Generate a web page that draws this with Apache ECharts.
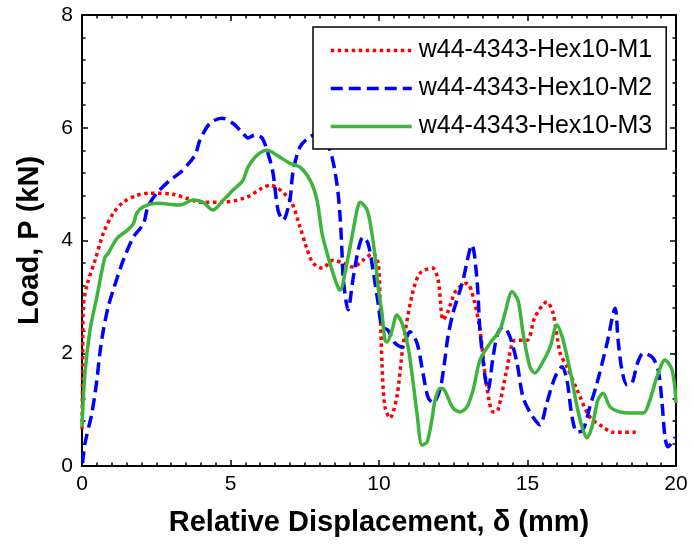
<!DOCTYPE html>
<html>
<head>
<meta charset="utf-8">
<script src="https://cdn.jsdelivr.net/npm/echarts@6/dist/echarts.min.js"></script>
<style>
  html, body { margin: 0; padding: 0; background: #fff; }
  #chart { width: 693px; height: 546px; }
</style>
</head>
<body>
<div id="chart"></div>
<script>
// Load–displacement curves for three Hex10 specimens
const seriesNames = ['w44-4343-Hex10-M1', 'w44-4343-Hex10-M2', 'w44-4343-Hex10-M3'];

const m1X = [0, 0.02, 0.04, 0.16, 0.44, 0.72, 1.05, 1.39, 1.84, 2.29, 3.07, 3.52, 3.97, 4.76, 5.55, 6.06, 6.33, 7.0, 7.34, 7.57, 7.78, 8.1, 8.45, 8.79, 9.12, 9.46, 9.8, 9.97, 10.03, 10.1, 10.2, 10.37, 10.6, 10.8, 11.1, 11.38, 11.8, 11.99, 12.16, 12.3, 12.6, 12.96, 13.2, 13.4, 13.6, 13.84, 14.0, 14.3, 14.58, 14.98, 15.25, 15.65, 15.86, 16.1, 16.33, 16.67, 17.1, 17.55, 17.88, 18.68];
const m1Y = [0.65, 1.6, 2.8, 3.2, 3.65, 4.13, 4.48, 4.68, 4.8, 4.84, 4.82, 4.75, 4.68, 4.68, 4.77, 4.93, 4.98, 4.72, 4.24, 3.86, 3.6, 3.51, 3.65, 3.6, 3.53, 3.65, 3.77, 3.6, 3.0, 1.82, 1.05, 0.85, 1.22, 2.1, 3.0, 3.42, 3.51, 3.3, 2.59, 2.71, 3.12, 3.24, 2.94, 2.41, 1.52, 0.96, 0.99, 1.7, 2.23, 2.23, 2.64, 2.91, 2.71, 2.0, 1.76, 1.35, 0.87, 0.69, 0.6, 0.6];

const m2X = [0.02, 0.1, 0.33, 0.5, 0.6, 0.72, 0.88, 1.05, 1.39, 1.73, 2.07, 2.22, 2.52, 2.96, 3.3, 3.8, 3.97, 4.31, 4.71, 5.08, 5.42, 5.59, 5.82, 6.06, 6.26, 6.43, 6.6, 6.77, 7.0, 7.1, 7.34, 7.68, 8.0, 8.35, 8.58, 8.69, 8.75, 8.8, 8.96, 9.12, 9.3, 9.46, 9.63, 9.8, 9.97, 10.1, 10.3, 10.54, 10.77, 11.04, 11.28, 11.48, 11.65, 11.82, 12.05, 12.2, 12.32, 12.49, 12.73, 12.83, 13.13, 13.3, 13.4, 13.57, 13.67, 13.84, 14.0, 14.18, 14.41, 14.65, 14.85, 15.18, 15.42, 15.65, 15.93, 16.16, 16.33, 16.5, 16.67, 16.87, 17.1, 17.34, 17.68, 17.95, 18.05, 18.18, 18.35, 18.52, 18.7, 18.9, 19.2, 19.4, 19.53, 19.63, 19.73, 19.97];
const m2Y = [0.05, 0.4, 0.93, 1.52, 2.0, 2.41, 2.82, 3.12, 3.65, 4.06, 4.3, 4.6, 4.84, 5.07, 5.2, 5.51, 5.78, 6.08, 6.17, 6.08, 5.9, 5.82, 5.87, 5.82, 5.55, 5.2, 4.54, 4.36, 4.72, 5.2, 5.66, 5.84, 5.9, 5.6, 5.02, 4.42, 3.83, 3.3, 2.77, 3.3, 3.83, 4.06, 3.95, 3.47, 2.89, 2.47, 2.41, 2.18, 2.11, 2.38, 2.18, 1.65, 1.22, 1.12, 1.35, 1.82, 2.29, 2.71, 3.12, 3.3, 3.92, 3.3, 2.41, 1.58, 1.35, 1.93, 2.36, 2.47, 2.29, 1.82, 1.22, 0.87, 0.73, 1.12, 1.58, 1.76, 1.52, 0.87, 0.6, 0.64, 1.05, 1.47, 2.18, 2.8, 2.23, 1.7, 1.44, 1.47, 1.82, 2.0, 1.93, 1.7, 1.12, 0.51, 0.34, 0.51];

const m3X = [0, 0.1, 0.27, 0.5, 0.77, 0.88, 1.18, 1.52, 1.73, 1.84, 2.07, 2.52, 3.3, 3.74, 4.07, 4.41, 4.76, 5.08, 5.42, 5.59, 5.89, 6.23, 6.57, 7.0, 7.34, 7.68, 7.91, 8.08, 8.25, 8.45, 8.62, 8.69, 8.92, 9.12, 9.26, 9.36, 9.6, 9.76, 9.87, 9.97, 10.1, 10.2, 10.27, 10.44, 10.6, 10.77, 10.98, 11.14, 11.28, 11.45, 11.62, 11.78, 11.89, 12.05, 12.2, 12.49, 12.73, 12.96, 13.17, 13.4, 13.74, 14.07, 14.24, 14.48, 14.68, 14.85, 15.08, 15.25, 15.49, 15.76, 15.99, 16.2, 16.43, 16.67, 16.84, 17.0, 17.17, 17.37, 17.54, 17.78, 18.11, 18.45, 18.9, 19.12, 19.36, 19.63, 19.87, 20.0];
const m3Y = [0.69, 1.65, 2.41, 3.0, 3.7, 3.77, 4.04, 4.18, 4.3, 4.48, 4.6, 4.66, 4.63, 4.72, 4.68, 4.54, 4.72, 4.89, 5.07, 5.3, 5.51, 5.6, 5.51, 5.37, 5.3, 5.07, 4.72, 4.13, 3.78, 3.42, 3.17, 3.12, 3.6, 4.15, 4.54, 4.68, 4.54, 4.13, 3.7, 3.17, 2.71, 2.23, 2.2, 2.41, 2.68, 2.54, 2.11, 1.52, 0.93, 0.37, 0.43, 0.82, 1.17, 1.38, 1.35, 1.03, 0.96, 1.05, 1.35, 1.88, 2.18, 2.41, 2.71, 3.09, 2.94, 2.36, 1.76, 1.65, 1.82, 2.11, 2.5, 2.23, 1.7, 1.05, 0.69, 0.5, 0.69, 1.17, 1.29, 1.05, 0.96, 0.94, 0.94, 1.17, 1.58, 1.88, 1.7, 1.12];

const xTicks = [0, 5, 10, 15, 20];
const yTicks = [0, 2, 4, 6, 8];

const FONT = "'Liberation Sans', Arial, Helvetica, sans-serif";

function zip(xs, ys) { return xs.map((x, i) => [x, ys[i]]); }

function axisBase(showLabels, isX) {
  const ticks = isX ? xTicks : yTicks;
  return {
    type: 'value',
    min: ticks[0],
    max: ticks[ticks.length - 1],
    interval: ticks[1] - ticks[0],
    axisLine: { show: true, onZero: false, lineStyle: { color: '#000', width: 2 } },
    axisTick: { show: true, inside: true, length: 6, lineStyle: { color: '#000', width: 1.5 } },
    minorTick: { show: true, splitNumber: isX ? 10 : 5, length: 3.5, lineStyle: { color: '#000', width: 1.5 } },
    splitLine: { show: false },
    minorSplitLine: { show: false },
    axisLabel: {
      show: showLabels,
      color: '#000',
      fontSize: 21,
      fontFamily: FONT,
      margin: isX ? 8 : 9
    }
  };
}

const chart = echarts.init(document.getElementById('chart'), null, { renderer: 'canvas' });

const option = {
  backgroundColor: '#fff',
  animation: false,
  grid: { left: 82, right: 17, top: 15, bottom: 80, containLabel: false },
  legend: {
    orient: 'vertical',
    left: 313,
    top: 27,
    z: 10,
    padding: [11, 14, 10, 16],
    itemGap: 13,
    itemWidth: 81,
    itemHeight: 14,
    backgroundColor: '#fff',
    borderColor: '#000',
    borderWidth: 1.5,
    borderRadius: 0,
    lineStyle: { width: 3.5 },
    // line-only keys: hide the marker that is drawn in the middle of each line
    itemStyle: { opacity: 0, borderWidth: 0 },
    textStyle: { color: '#000', fontSize: 25, fontFamily: FONT, lineHeight: 25, padding: [0, 0, 0, 2] },
    data: seriesNames
  },
  xAxis: [
    Object.assign(axisBase(true, true), {
      position: 'bottom',
      name: 'Relative Displacement, \u03b4 (mm)',
      nameLocation: 'middle',
      nameGap: 42,
      nameTextStyle: { color: '#000', fontSize: 29, fontWeight: 'bold', fontFamily: FONT }
    }),
    Object.assign(axisBase(false, true), { position: 'top' })
  ],
  yAxis: [
    Object.assign(axisBase(true, false), {
      position: 'left',
      name: 'Load, P (kN)',
      nameLocation: 'middle',
      nameGap: 38,
      nameRotate: 90,
      nameTextStyle: { color: '#000', fontSize: 29, fontWeight: 'bold', fontFamily: FONT }
    }),
    Object.assign(axisBase(false, false), { position: 'right' })
  ],
  series: [
    {
      name: seriesNames[0],
      type: 'line',
      data: zip(m1X, m1Y),
      symbol: 'none',
      smooth: 0.3,
      color: '#ff0000',
      lineStyle: { color: '#ff0000', width: 3.5, type: [3.5, 3.5], cap: 'butt' }
    },
    {
      name: seriesNames[1],
      type: 'line',
      data: zip(m2X, m2Y),
      symbol: 'none',
      smooth: 0.3,
      color: '#0000ff',
      lineStyle: { color: '#0000ff', width: 3.5, type: [12, 6], cap: 'butt' }
    },
    {
      name: seriesNames[2],
      type: 'line',
      data: zip(m3X, m3Y),
      symbol: 'none',
      smooth: 0.3,
      color: '#3db53d',
      lineStyle: { color: '#3db53d', width: 3.5, type: 'solid' }
    }
  ]
};

chart.setOption(option);
</script>
</body>
</html>
